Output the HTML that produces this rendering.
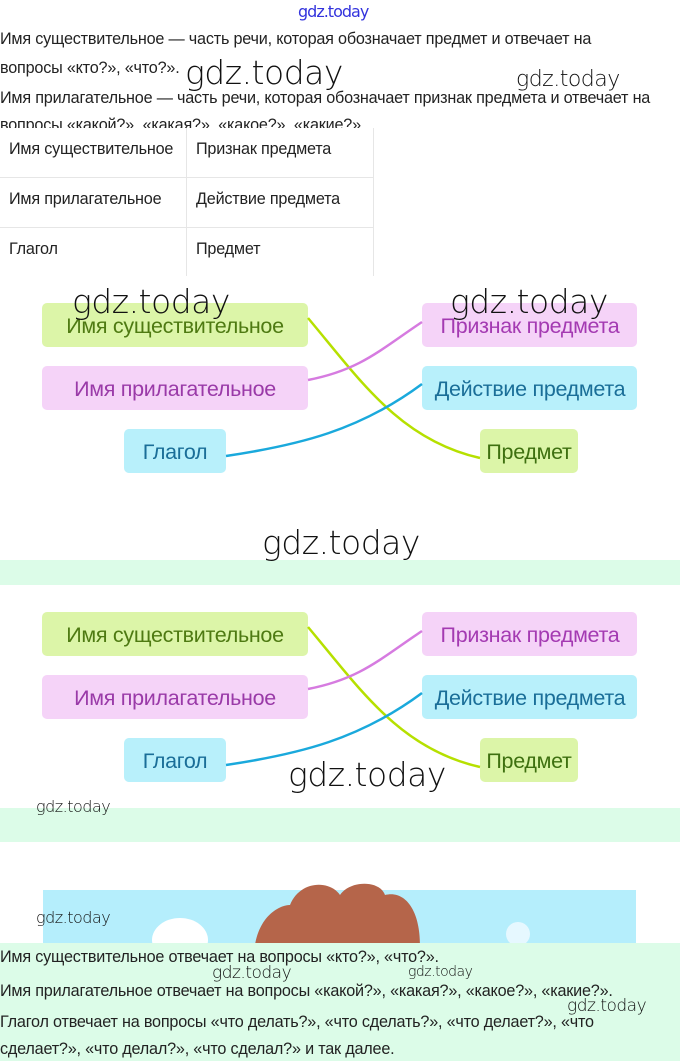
<!DOCTYPE html>
<html><head><meta charset="utf-8"><style>
body{margin:0;width:680px;height:1061px;position:relative;background:#fff;font-family:"Liberation Sans",sans-serif;overflow:hidden}
.a{position:absolute;white-space:nowrap}
.t{font-size:16.2px;color:#222;letter-spacing:-0.2px}
.w{font-family:"DejaVu Sans","Liberation Sans",sans-serif;font-weight:200;color:#111;letter-spacing:-0.5px}
</style></head><body>
<div class="a" style="left:298px;top:2px;font-size:16px;color:#3333dd;font-family:'DejaVu Sans',sans-serif;letter-spacing:-1px">gdz.today</div>
<div class="a t" style="left:0;top:30px">Имя существительное — часть речи, которая обозначает предмет и отвечает на</div>
<div class="a t" style="left:0;top:59px">вопросы «кто?», «что?».</div>
<div class="a t" style="left:0;top:89px">Имя прилагательное — часть речи, которая обозначает признак предмета и отвечает на</div>
<div class="a t" style="left:0;top:116px;height:12px;overflow:hidden">вопросы «какой?», «какая?», «какое?», «какие?».</div>
<div class="a w" style="left:185px;top:53px;font-size:33px">gdz.today</div>
<div class="a w" style="left:516px;top:67px;font-size:22px">gdz.today</div>
<div class="a" style="left:0;top:128px;width:373px;height:148px;border-right:1px solid #e6e6e6">
<div style="position:absolute;left:186px;top:0;width:1px;height:148px;background:#e6e6e6"></div>
<div style="position:absolute;left:0;top:49px;width:373px;height:1px;background:#e6e6e6"></div>
<div style="position:absolute;left:0;top:99px;width:373px;height:1px;background:#e6e6e6"></div>
<div class="a t" style="left:9px;top:12px">Имя существительное</div><div class="a t" style="left:196px;top:12px">Признак предмета</div>
<div class="a t" style="left:9px;top:62px">Имя прилагательное</div><div class="a t" style="left:196px;top:62px">Действие предмета</div>
<div class="a t" style="left:9px;top:112px">Глагол</div><div class="a t" style="left:196px;top:112px">Предмет</div>
</div>
<div class="a" style="left:0;top:560px;width:680px;height:25px;background:#dcfce8"></div>
<div class="a" style="left:0;top:808px;width:680px;height:34px;background:#dcfce8"></div>
<svg class="a" style="left:0;top:0" width="680" height="1061">
<defs><g id="d" font-family="Liberation Sans, sans-serif" font-size="21.5" text-anchor="middle" letter-spacing="-0.3">
<rect x="42" y="303" width="266" height="44" rx="5" fill="#dcf5a8"/>
<rect x="42" y="366" width="266" height="44" rx="5" fill="#f5d3f8"/>
<rect x="124" y="429" width="102" height="44" rx="5" fill="#b8f0fb"/>
<rect x="422" y="303" width="215" height="44" rx="5" fill="#f5d3f8"/>
<rect x="422" y="366" width="215" height="44" rx="5" fill="#b8f0fb"/>
<rect x="480" y="429" width="98" height="44" rx="5" fill="#dcf5a8"/>
<path d="M308 318 C360 380 400 440 480 458" stroke="#b6e000" stroke-width="2.5" fill="none"/>
<path d="M308 380 C360 370 380 350 422 322" stroke="#d67be0" stroke-width="2.5" fill="none"/>
<path d="M226 456 C300 445 360 430 422 384" stroke="#1aa9dc" stroke-width="2.5" fill="none"/>
<text x="175" y="333" fill="#4e7a12">Имя существительное</text>
<text x="175" y="396" fill="#9a3aa8">Имя прилагательное</text>
<text x="175" y="459" fill="#1a6e98">Глагол</text>
<text x="530" y="333" fill="#a43ab2">Признак предмета</text>
<text x="530" y="396" fill="#1a6e98">Действие предмета</text>
<text x="529" y="459" fill="#3e7010">Предмет</text>
</g></defs>
<use href="#d"/>
<use href="#d" transform="translate(0,309)"/>
<rect x="43" y="890" width="593" height="55" fill="#b5eefc"/>
<path d="M255 945 C260 915 280 905 290 905 C300 880 330 880 340 895 C350 880 380 880 385 895 C405 890 420 910 420 945Z" fill="#b5654a"/>
<ellipse cx="180" cy="940" rx="28" ry="22" fill="#fff"/>
<circle cx="518" cy="934" r="12" fill="#e6f8ff"/>
</svg>
<div class="a w" style="left:72px;top:282px;font-size:33px">gdz.today</div>
<div class="a w" style="left:450px;top:282px;font-size:33px">gdz.today</div>
<div class="a w" style="left:262px;top:523px;font-size:33px">gdz.today</div>
<div class="a w" style="left:288px;top:755px;font-size:33px">gdz.today</div>
<div class="a w" style="left:36px;top:797px;font-size:16px">gdz.today</div>
<div class="a w" style="left:36px;top:908px;font-size:16px">gdz.today</div>
<div class="a" style="left:0;top:943px;width:680px;height:118px;background:#dcfce8"></div>
<div class="a t" style="left:0;top:948px">Имя существительное отвечает на вопросы «кто?», «что?».</div>
<div class="a t" style="left:0;top:982px">Имя прилагательное отвечает на вопросы «какой?», «какая?», «какое?», «какие?».</div>
<div class="a t" style="left:0;top:1013px">Глагол отвечает на вопросы «что делать?», «что сделать?», «что делает?», «что</div>
<div class="a t" style="left:0;top:1040px">сделает?», «что делал?», «что сделал?» и так далее.</div>
<div class="a w" style="left:212px;top:963px;font-size:17px">gdz.today</div>
<div class="a w" style="left:408px;top:964px;font-size:14px">gdz.today</div>
<div class="a w" style="left:567px;top:996px;font-size:17px">gdz.today</div>
</body></html>
